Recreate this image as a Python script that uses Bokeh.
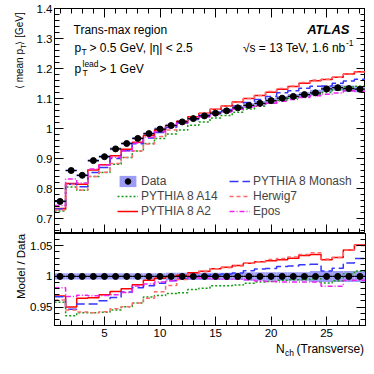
import numpy as np
from bokeh.plotting import figure
from bokeh.models import (Range1d, LinearAxis, SingleIntervalTicker, Label,
                          Legend, LegendItem, CustomJSTickFormatter,
                          CustomLabelingPolicy)
from bokeh.layouts import column, row
from bokeh.embed import file_html
from bokeh.resources import INLINE

# ---------------- data ----------------
nch = [1, 2, 3, 4, 5, 6, 7, 8, 9, 10, 11, 12, 13, 14,
       15, 16, 17, 18, 19, 20, 21, 22, 23, 24, 25, 26, 27, 28]
data_mean_pt = [0.757, 0.860, 0.844, 0.893, 0.906, 0.932, 0.950, 0.967, 0.983, 0.998,
                1.010, 1.022, 1.033, 1.042, 1.051, 1.059, 1.069, 1.077, 1.084, 1.093,
                1.101, 1.107, 1.113, 1.119, 1.132, 1.136, 1.133, 1.131]
data_rel_unc = [0.005, 0.005, 0.005, 0.005, 0.005, 0.005, 0.005, 0.005, 0.005, 0.005,
                0.006, 0.006, 0.006, 0.006, 0.006, 0.006, 0.006, 0.007, 0.007, 0.007,
                0.007, 0.007, 0.007, 0.009, 0.009, 0.009, 0.009, 0.009]
pythia_a14 = [0.725, 0.805, 0.794, 0.840, 0.853, 0.881, 0.903, 0.925, 0.950, 0.967,
              0.982, 0.995, 1.011, 1.022, 1.035, 1.043, 1.054, 1.065, 1.074, 1.084,
              1.094, 1.101, 1.107, 1.115, 1.120, 1.128, 1.138, 1.141]
pythia_a2 = [0.733, 0.817, 0.814, 0.862, 0.879, 0.909, 0.931, 0.954, 0.977, 0.995,
             1.010, 1.024, 1.039, 1.051, 1.064, 1.075, 1.088, 1.100, 1.110, 1.121,
             1.131, 1.140, 1.151, 1.159, 1.163, 1.171, 1.182, 1.189]
pythia_monash = [0.732, 0.814, 0.806, 0.853, 0.870, 0.900, 0.926, 0.949, 0.968, 0.987,
                 1.003, 1.018, 1.032, 1.044, 1.054, 1.063, 1.075, 1.087, 1.097, 1.107,
                 1.119, 1.126, 1.134, 1.141, 1.142, 1.151, 1.158, 1.164]
herwig7 = [0.728, 0.813, 0.795, 0.840, 0.854, 0.883, 0.903, 0.925, 0.948, 0.973,
           0.995, 1.017, 1.037, 1.050, 1.064, 1.074, 1.087, 1.100, 1.110, 1.123,
           1.133, 1.142, 1.153, 1.162, 1.164, 1.171, 1.182, 1.188]
epos = [0.743, 0.832, 0.818, 0.865, 0.878, 0.904, 0.925, 0.952, 0.971, 0.989,
        1.003, 1.019, 1.031, 1.039, 1.047, 1.054, 1.064, 1.071, 1.076, 1.084,
        1.091, 1.097, 1.103, 1.109, 1.114, 1.118, 1.126, 1.124]

models = [
    ("PYTHIA 8 A14", pythia_a14, "#159a15", "2 2"),
    ("PYTHIA 8 A2", pythia_a2, "#ff0000", "solid"),
    ("PYTHIA 8 Monash", pythia_monash, "#3535ff", "9 4"),
    ("Herwig7", herwig7, "#ff6a6a", "4 3"),
    ("Epos", epos, "#ee22ee", "5 2 1 2"),
]

FONT = "Liberation Sans"
BAND = "#9c9cf6"
LW = 27            # width of the left title strip
BL = 25            # left border of the panels (tick labels)
FW = 311
BR = 2
TOPB = 8
H1, H2 = 225, 92
BB2 = 17
HB = 15
XLO, XHI = 0.5, 28.5
Y1LO, Y1HI = 0.65, 1.4000001
Y2LO, Y2HI = 0.92, 1.07

d = np.array(data_mean_pt)
u = np.array(data_rel_unc)
n = np.array(nch, dtype=float)
left = n - 0.5
right = n + 0.5
edges = list(left) + [right[-1]]

# picture-pixel -> data helpers for text placement
FL = LW + BL
F1T = TOPB
F1B = F1T + H1
F2B = F1B + H2
TOTAL_H = TOPB + H1 + H2 + BB2 + HB


def X(px):
    return XLO + (px - FL) * (XHI - XLO) / FW


def Y1(py):
    return Y1LO + (F1B - py) * (Y1HI - Y1LO) / H1


fmt = CustomJSTickFormatter(code="return (Math.round(tick*1000)/1000).toString();")


def style_axis(ax, labels=True):
    ax.major_tick_in = 9
    ax.major_tick_out = 0
    ax.minor_tick_in = 5
    ax.minor_tick_out = 0
    ax.axis_line_color = "black"
    ax.major_tick_line_color = "black"
    ax.minor_tick_line_color = "black"
    ax.major_label_text_font = FONT
    ax.major_label_text_font_size = "11.5px"
    ax.major_label_text_color = "black"
    ax.major_label_standoff = 2
    ax.formatter = fmt
    if not labels:
        ax.major_label_text_font_size = "0px"
        ax.major_label_standoff = 0
        ax.major_label_policy = CustomLabelingPolicy(
            code="for (const i of [...indices]) indices.unset(i); return indices")


def make_fig(h, ylo, yhi, yint, top_border, bottom_border):
    p = figure(frame_width=FW, frame_height=h,
               x_range=Range1d(XLO, XHI), y_range=Range1d(ylo, yhi),
               output_backend="svg", toolbar_location=None,
               min_border_left=BL, min_border_right=BR,
               min_border_top=top_border, min_border_bottom=bottom_border,
               x_axis_location=None, y_axis_location=None)
    p.xgrid.visible = False
    p.ygrid.visible = False
    p.outline_line_color = "black"
    xt = SingleIntervalTicker(interval=5, num_minor_ticks=5)
    yt = SingleIntervalTicker(interval=yint, num_minor_ticks=5)
    return p, xt, yt


def blank_fig(fw, fh, xr, yr, bl=0, br=0, bt=0, bb=0):
    p = figure(frame_width=fw, frame_height=fh, x_range=xr, y_range=yr,
               output_backend="svg", toolbar_location=None,
               min_border_left=bl, min_border_right=br,
               min_border_top=bt, min_border_bottom=bb,
               x_axis_location=None, y_axis_location=None)
    p.xgrid.visible = False
    p.ygrid.visible = False
    p.outline_line_color = None
    return p


def txt(p, x, y, t, size=12, align="left", style="normal", angle=0.0,
        baseline="middle"):
    p.add_layout(Label(x=x, y=y, text=t, text_font=FONT,
                       text_font_size=f"{size}px", text_align=align,
                       text_baseline=baseline, text_font_style=style,
                       text_color="black", angle=angle))


# ---------------- top panel ----------------
p1, xt1, yt1 = make_fig(H1, Y1LO, Y1HI, 0.1, TOPB, 0)
for loc, lab in (("below", False), ("above", False)):
    ax = LinearAxis(ticker=xt1)
    style_axis(ax, lab)
    p1.add_layout(ax, loc)
for loc, lab in (("left", True), ("right", False)):
    ax = LinearAxis(ticker=yt1)
    style_axis(ax, lab)
    p1.add_layout(ax, loc)

band1 = p1.quad(left=left, right=right, bottom=d * (1 - u), top=d * (1 + u),
                fill_color=BAND, line_color=None)
model_r = {}
for name, vals, col, dash in models:
    r = p1.step(x=edges, y=list(vals) + [vals[-1]], mode="after",
                line_color=col, line_dash=dash, line_width=1.5)
    model_r[name] = r
p1.segment(x0=left, x1=right, y0=d, y1=d, line_color="black", line_width=1.2)
dots1 = p1.scatter(n, d, size=6, color="black")

leg_common = dict(orientation="vertical", padding=0, margin=0, spacing=1,
                  glyph_width=21, glyph_height=14, label_height=14,
                  label_standoff=3, label_text_font=FONT,
                  label_text_font_size="12px", border_line_alpha=0,
                  background_fill_alpha=0)
leg1 = Legend(items=[LegendItem(label="Data", renderers=[band1, dots1]),
                     LegendItem(label="PYTHIA 8 A14", renderers=[model_r["PYTHIA 8 A14"]]),
                     LegendItem(label="PYTHIA 8 A2", renderers=[model_r["PYTHIA 8 A2"]])],
              location=(115 - FL, F1B - 218), **leg_common)
leg2 = Legend(items=[LegendItem(label="PYTHIA 8 Monash", renderers=[model_r["PYTHIA 8 Monash"]]),
                     LegendItem(label="Herwig7", renderers=[model_r["Herwig7"]]),
                     LegendItem(label="Epos", renderers=[model_r["Epos"]])],
              location=(227 - FL, F1B - 218), **leg_common)
p1.add_layout(leg1)
p1.add_layout(leg2)

SUB = 8.5
txt(p1, X(71), Y1(29), "Trans-max region")
txt(p1, X(72), Y1(47), "p")
txt(p1, X(79), Y1(51), "T", SUB)
txt(p1, X(87), Y1(47), "> 0.5 GeV, |η| < 2.5")
txt(p1, X(72), Y1(68), "p")
txt(p1, X(80), Y1(63), "lead", SUB)
txt(p1, X(80), Y1(72), "T", SUB)
txt(p1, X(97), Y1(68), "> 1 GeV")
txt(p1, X(347), Y1(29), "ATLAS", 13, "right", "bold italic")
txt(p1, X(343), Y1(47), "√s = 13 TeV, 1.6 nb", 12, "right")
txt(p1, X(343.5), Y1(42), "-1", SUB)

# ---------------- ratio panel ----------------
p2, xt2, yt2 = make_fig(H2, Y2LO, Y2HI, 0.05, 0, BB2)
ax = LinearAxis(ticker=xt2)
style_axis(ax, True)
ax.major_label_standoff = 3
p2.add_layout(ax, "below")
for loc, lab in (("left", True), ("right", False)):
    ax = LinearAxis(ticker=yt2)
    style_axis(ax, lab)
    p2.add_layout(ax, loc)

p2.quad(left=left, right=right, bottom=1 - u, top=1 + u,
        fill_color=BAND, line_color=None)
for name, vals, col, dash in models:
    ratio = list(np.array(vals) / d)
    p2.step(x=edges, y=ratio + [ratio[-1]], mode="after",
            line_color=col, line_dash=dash, line_width=1.5)
ones = np.ones_like(d)
p2.segment(x0=left, x1=right, y0=ones, y1=ones, line_color="black", line_width=1.2)
p2.scatter(n, ones, size=6, color="black")

# ---------------- x title strip (picture pixel coordinates) ----------------
pb = blank_fig(FW, HB, Range1d(FL, FL + FW), Range1d(TOTAL_H, TOTAL_H - HB),
               bl=BL, br=BR)
txt(pb, 273.5, 348.5, "N")
txt(pb, 282.5, 352, "ch", SUB)
txt(pb, 294, 348.5, "(Transverse)")

# ---------------- y title strip (picture pixel coordinates) ----------------
pl = blank_fig(LW, TOTAL_H - TOPB, Range1d(0, LW), Range1d(TOTAL_H, TOPB),
               bt=TOPB)
txt(pl, 19, 9, " ⟩ [GeV]", 10, "right", angle=np.pi / 2)
txt(pl, 22.5, 44, "T", 7.5, "right", angle=np.pi / 2)
txt(pl, 19, 48.5, "⟨ mean p", 10, "right", angle=np.pi / 2)
txt(pl, 20, 266, "Model / Data", 11.5, "center", angle=np.pi / 2)

layout = row(pl, column(p1, p2, pb, spacing=0), spacing=0)
open("out.html", "w").write(file_html(layout, INLINE))
